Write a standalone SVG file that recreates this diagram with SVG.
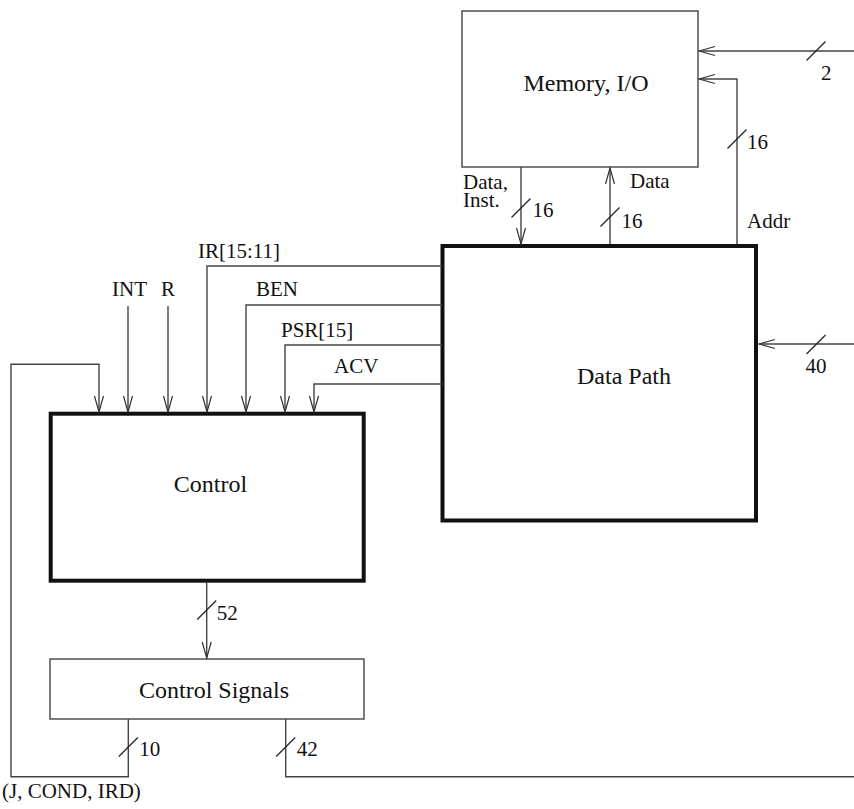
<svg xmlns="http://www.w3.org/2000/svg" width="854" height="809" viewBox="0 0 854 809">
<style>
text{font-family:"Liberation Serif","Times New Roman",serif;fill:#111}
.t{font-size:24px;text-anchor:middle}
.l{font-size:21px}
.thin{fill:none;stroke:#444;stroke-width:1.4}
.thick{fill:none;stroke:#111;stroke-width:4}
.w{fill:none;stroke:#444;stroke-width:1.4}
.s{stroke:#222;stroke-width:1.2}
</style>
<defs>
<marker id="a" markerUnits="userSpaceOnUse" markerWidth="20" markerHeight="12" viewBox="-17 -6 18 12" refX="0" refY="0" orient="auto">
<path d="M-16,-4.5 L0,0 L-16,4.5" fill="none" stroke="#333" stroke-width="1.2"/>
</marker>
</defs>
<g id="memory">
<rect class="thin" x="462" y="11" width="236" height="156"/>
<text class="t" x="586" y="91">Memory, I/O</text>
</g>
<g id="datapath">
<rect class="thick" x="442.5" y="246" width="313.5" height="274.5"/>
<text class="t" x="624" y="384">Data Path</text>
</g>
<g id="control">
<rect class="thick" x="50.7" y="413.7" width="313" height="167"/>
<text class="t" x="210.5" y="492">Control</text>
</g>
<g id="controlsignals">
<rect class="thin" x="50" y="659" width="314" height="60"/>
<text class="t" x="214" y="698">Control Signals</text>
</g>
<g id="connectors">
<path class="w" d="M854,51 H699" marker-end="url(#a)"/>
<path class="w" d="M737,244 V79 H699" marker-end="url(#a)"/>
<path class="w" d="M521,167 V244" marker-end="url(#a)"/>
<path class="w" d="M610,244 V168" marker-end="url(#a)"/>
<path class="w" d="M854,344 H759" marker-end="url(#a)"/>
<path class="w" d="M442,266 H207 V412" marker-end="url(#a)"/>
<path class="w" d="M442,305 H246 V412" marker-end="url(#a)"/>
<path class="w" d="M442,345 H285 V412" marker-end="url(#a)"/>
<path class="w" d="M442,384 H314 V412" marker-end="url(#a)"/>
<path class="w" d="M128,306 V412" marker-end="url(#a)"/>
<path class="w" d="M168,306 V412" marker-end="url(#a)"/>
<path class="w" d="M128.3,719 V776.7 H11 V364.3 H99 V412" marker-end="url(#a)"/>
<path class="w" d="M285.7,719 V776.7 H854"/>
<path class="w" d="M206.7,582 V658" marker-end="url(#a)"/>
<g class="s">
<line x1="806.5" y1="60.5" x2="825.5" y2="41.5"/>
<line x1="727.5" y1="148.5" x2="746.5" y2="129.5"/>
<line x1="511.5" y1="217.5" x2="530.5" y2="198.5"/>
<line x1="600.5" y1="226.5" x2="619.5" y2="207.5"/>
<line x1="806.5" y1="354" x2="825.5" y2="335"/>
<line x1="197.2" y1="619.5" x2="216.2" y2="600.5"/>
<line x1="118.8" y1="756.5" x2="137.8" y2="737.5"/>
<line x1="276.2" y1="756.5" x2="295.2" y2="737.5"/>
</g>
<text class="l" x="821" y="80">2</text>
<text class="l" x="747" y="149">16</text>
<text class="l" x="747" y="228">Addr</text>
<text class="l" x="463" y="189">Data,</text>
<text class="l" x="463" y="207">Inst.</text>
<text class="l" x="532.5" y="217">16</text>
<text class="l" x="630" y="188">Data</text>
<text class="l" x="621.5" y="228">16</text>
<text class="l" x="805.5" y="373">40</text>
<text class="l" x="198" y="258">IR[15:11]</text>
<text class="l" x="112" y="296">INT</text>
<text class="l" x="161" y="296">R</text>
<text class="l" x="256" y="296">BEN</text>
<text class="l" x="281" y="337">PSR[15]</text>
<text class="l" x="334" y="373">ACV</text>
<text class="l" x="216.7" y="619.5">52</text>
<text class="l" x="139.3" y="756">10</text>
<text class="l" x="296.7" y="756">42</text>
<text class="l" x="2" y="798">(J, COND, IRD)</text>
</g>
</svg>
